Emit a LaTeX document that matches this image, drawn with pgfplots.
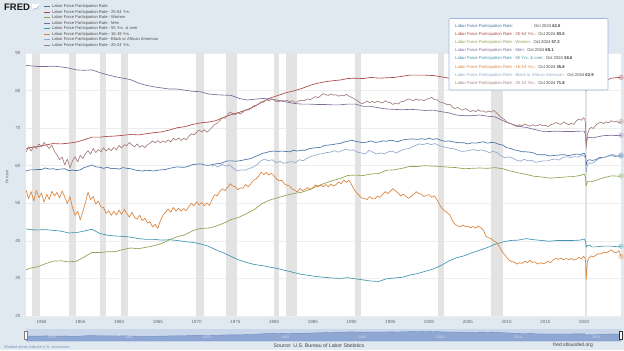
\documentclass[border=0pt]{standalone}
\usepackage{fontspec}
\setmainfont{Liberation Sans}
\usepackage{pgfplots}
\usepackage{pgfplotstable}
\pgfplotsset{compat=1.18}
\definecolor{fredbg}{HTML}{E1E9F0}
\definecolor{cA}{HTML}{4572A7}
\definecolor{cB}{HTML}{AA4643}
\definecolor{cC}{HTML}{89A54E}
\definecolor{cD}{HTML}{80699B}
\definecolor{cE}{HTML}{3D96AE}
\definecolor{cF}{HTML}{DB843D}
\definecolor{cG}{HTML}{92A8CD}
\definecolor{cH}{HTML}{A47D7C}
\definecolor{recc}{HTML}{E3E3E3}
\definecolor{gridc}{HTML}{EDEDED}
\definecolor{tickc}{HTML}{666666}
\definecolor{navbg}{HTML}{CAD7EA}
\definecolor{navfill}{HTML}{8FA7D3}
\definecolor{navline}{HTML}{6E8CC4}
\definecolor{tipb}{HTML}{9DB6DD}
\newcommand\fs[1]{\fontsize{#1}{#1}\selectfont}

\pgfplotstableread[row sep=\\]{x y\\
1948 58.6\\ 1948.5 58.9\\ 1949 58.9\\ 1949.5 59.0\\ 1950 59.0\\ 1950.5 59.4\\ 1951 59.1\\ 1951.5 59.2\\ 1952 59.0\\ 1952.5 59.1\\
1953 59.2\\ 1953.5 58.7\\ 1954 58.8\\ 1954.5 58.7\\ 1955 58.9\\ 1955.5 59.5\\ 1956 59.8\\ 1956.5 60.2\\ 1957 59.7\\ 1957.5 59.6\\
1958 59.3\\ 1958.5 59.6\\ 1959 59.2\\ 1959.5 59.3\\ 1960 59.1\\ 1960.5 59.5\\ 1961 59.3\\ 1961.5 59.2\\ 1962 58.9\\ 1962.5 58.7\\
1963 58.6\\ 1963.5 58.8\\ 1964 58.7\\ 1964.5 58.6\\ 1965 58.8\\ 1965.5 58.9\\ 1966 59.0\\ 1966.5 59.3\\ 1967 59.5\\ 1967.5 59.7\\
1968 59.6\\ 1968.5 59.6\\ 1969 59.9\\ 1969.5 60.3\\ 1970 60.4\\ 1970.5 60.5\\ 1971 60.2\\ 1971.5 60.1\\ 1972 60.3\\ 1972.5 60.5\\
1973 60.6\\ 1973.5 60.9\\ 1974 61.3\\ 1974.5 61.3\\ 1975 61.2\\ 1975.5 61.3\\ 1976 61.5\\ 1976.5 61.7\\ 1977 61.9\\ 1977.5 62.4\\
1978 62.8\\ 1978.5 63.3\\ 1979 63.5\\ 1979.5 63.8\\ 1980 63.9\\ 1980.5 63.8\\ 1981 63.9\\ 1981.5 63.8\\ 1982 63.7\\ 1982.5 64.1\\
1983 63.9\\ 1983.5 64.1\\ 1984 64.1\\ 1984.5 64.5\\ 1985 64.7\\ 1985.5 64.8\\ 1986 64.9\\ 1986.5 65.4\\ 1987 65.5\\ 1987.5 65.6\\
1988 65.8\\ 1988.5 65.9\\ 1989 66.3\\ 1989.5 66.5\\ 1990 66.8\\ 1990.5 66.5\\ 1991 66.3\\ 1991.5 66.1\\ 1992 66.3\\ 1992.5 66.6\\
1993 66.2\\ 1993.5 66.3\\ 1994 66.6\\ 1994.5 66.5\\ 1995 66.8\\ 1995.5 66.6\\ 1996 66.4\\ 1996.5 66.8\\ 1997 67.0\\ 1997.5 67.1\\
1998 67.1\\ 1998.5 67.0\\ 1999 67.2\\ 1999.5 67.0\\ 2000 67.3\\ 2000.5 67.0\\ 2001 67.2\\ 2001.5 66.8\\ 2002 66.5\\ 2002.5 66.6\\
2003 66.4\\ 2003.5 66.2\\ 2004 66.1\\ 2004.5 66.1\\ 2005 65.8\\ 2005.5 66.1\\ 2006 66.0\\ 2006.5 66.2\\ 2007 66.4\\ 2007.5 66.0\\
2008 66.2\\ 2008.5 66.1\\ 2009 65.7\\ 2009.5 65.5\\ 2010 64.8\\ 2010.5 64.6\\ 2011 64.2\\ 2011.5 64.0\\ 2012 63.7\\ 2012.5 63.7\\
2013 63.6\\ 2013.5 63.4\\ 2014 62.9\\ 2014.5 62.9\\ 2015 62.9\\ 2015.5 62.6\\ 2016 62.7\\ 2016.5 62.8\\ 2017 62.9\\ 2017.5 62.9\\
2018 62.7\\ 2018.5 62.9\\ 2019 63.1\\ 2019.5 63.0\\ 2020 63.3\\ 2020.17 62.6\\ 2020.25 60.1\\ 2020.42 61.4\\ 2020.75 61.6\\
2021 61.4\\ 2021.5 61.6\\ 2022 62.2\\ 2022.5 62.2\\ 2023 62.5\\ 2023.5 62.7\\ 2024 62.5\\ 2024.5 62.6\\ 2024.75 62.6\\
}\tTotal

\pgfplotstableread[row sep=\\]{x y\\
1948 64.6\\ 1948.5 64.8\\ 1949.5 65.1\\ 1950.5 65.5\\ 1951.5 65.9\\ 1952.5 65.8\\ 1953.5 66.0\\ 1954.5 66.3\\ 1955.5 66.9\\ 1956.5 67.6\\
1957.5 67.6\\ 1958.5 67.8\\ 1959.5 67.9\\ 1960.5 68.1\\ 1961.5 68.3\\ 1962.5 68.2\\ 1963.5 68.5\\ 1964.5 68.8\\ 1965.5 69.0\\ 1966.5 69.5\\
1967.5 70.1\\ 1968.5 70.4\\ 1969.5 71.0\\ 1970.5 71.4\\ 1971.5 71.6\\ 1972.5 72.0\\ 1973.5 72.9\\ 1974.5 73.6\\ 1975.5 74.2\\ 1976.5 74.9\\
1977.5 75.8\\ 1978.5 77.0\\ 1979.5 78.0\\ 1980.5 78.7\\ 1981.5 79.4\\ 1982.5 79.9\\ 1983.5 80.5\\ 1984.5 81.3\\ 1985.5 81.9\\ 1986.5 82.3\\
1987.5 82.6\\ 1988.5 82.8\\ 1989.5 83.2\\ 1990.5 83.3\\ 1991.5 83.2\\ 1992.5 83.5\\ 1993.5 83.3\\ 1994.5 83.4\\ 1995.5 83.5\\ 1996.5 83.8\\
1997.5 84.1\\ 1998.5 84.1\\ 1999.5 84.1\\ 2000.5 84.0\\ 2001.5 83.7\\ 2002.5 83.3\\ 2003.5 82.9\\ 2004.5 82.7\\ 2005.5 82.7\\ 2006.5 82.9\\
2007.5 83.0\\ 2008.5 83.1\\ 2009.5 82.5\\ 2010.5 81.8\\ 2011.5 81.3\\ 2012.5 81.4\\ 2013.5 80.9\\ 2014.5 80.9\\ 2015.5 80.9\\ 2016.5 81.3\\
2017.5 81.7\\ 2018.5 82.1\\ 2019.5 82.5\\ 2020 83.0\\ 2020.17 82.5\\ 2020.25 79.9\\ 2020.42 81.1\\ 2020.75 81.3\\ 2021 81.1\\ 2021.5 81.7\\
2022.5 82.4\\ 2023.5 83.3\\ 2024.5 83.5\\ 2024.75 83.5\\
}\tPrime

\pgfplotstableread[row sep=\\]{x y\\
1948 32.3\\ 1948.5 32.7\\ 1949.5 33.1\\ 1950.5 33.9\\ 1951.5 34.6\\ 1952.5 34.7\\ 1953.5 34.4\\ 1954.5 34.6\\ 1955.5 35.7\\ 1956.5 36.9\\
1957.5 36.9\\ 1958.5 37.1\\ 1959.5 37.1\\ 1960.5 37.7\\ 1961.5 38.1\\ 1962.5 37.9\\ 1963.5 38.3\\ 1964.5 38.7\\ 1965.5 39.3\\ 1966.5 40.3\\
1967.5 41.1\\ 1968.5 41.6\\ 1969.5 42.7\\ 1970.5 43.3\\ 1971.5 43.4\\ 1972.5 43.9\\ 1973.5 44.7\\ 1974.5 45.7\\ 1975.5 46.3\\ 1976.5 47.3\\
1977.5 48.4\\ 1978.5 50.0\\ 1979.5 50.9\\ 1980.5 51.5\\ 1981.5 52.1\\ 1982.5 52.6\\ 1983.5 52.9\\ 1984.5 53.6\\ 1985.5 54.5\\ 1986.5 55.3\\
1987.5 56.0\\ 1988.5 56.6\\ 1989.5 57.4\\ 1990.5 57.5\\ 1991.5 57.4\\ 1992.5 57.8\\ 1993.5 57.9\\ 1994.5 58.8\\ 1995.5 58.9\\ 1996.5 59.3\\
1997.5 59.8\\ 1998.5 59.8\\ 1999.5 60.0\\ 2000.5 59.9\\ 2001.5 59.8\\ 2002.5 59.6\\ 2003.5 59.5\\ 2004.5 59.2\\ 2005.5 59.3\\ 2006.5 59.4\\
2007.5 59.3\\ 2008.5 59.5\\ 2009.5 59.2\\ 2010.5 58.6\\ 2011.5 58.1\\ 2012.5 57.7\\ 2013.5 57.2\\ 2014.5 57.0\\ 2015.5 56.7\\ 2016.5 56.8\\
2017.5 57.0\\ 2018.5 57.1\\ 2019.5 57.4\\ 2020 57.8\\ 2020.17 57.0\\ 2020.25 54.6\\ 2020.42 55.8\\ 2020.75 55.9\\ 2021 55.8\\ 2021.5 56.1\\
2022.5 56.8\\ 2023.5 57.3\\ 2024.5 57.2\\ 2024.75 57.3\\
}\tWomen

\pgfplotstableread[row sep=\\]{x y\\
1948 86.7\\ 1948.5 86.6\\ 1949.5 86.4\\ 1950.5 86.4\\ 1951.5 86.5\\ 1952.5 86.3\\ 1953.5 86.0\\ 1954.5 85.5\\ 1955.5 85.4\\ 1956.5 85.5\\
1957.5 84.8\\ 1958.5 84.2\\ 1959.5 83.7\\ 1960.5 83.3\\ 1961.5 82.9\\ 1962.5 82.0\\ 1963.5 81.4\\ 1964.5 81.0\\ 1965.5 80.7\\ 1966.5 80.4\\
1967.5 80.4\\ 1968.5 80.1\\ 1969.5 79.8\\ 1970.5 79.7\\ 1971.5 79.1\\ 1972.5 78.9\\ 1973.5 78.8\\ 1974.5 78.7\\ 1975.5 77.9\\ 1976.5 77.5\\
1977.5 77.7\\ 1978.5 77.9\\ 1979.5 77.8\\ 1980.5 77.4\\ 1981.5 77.0\\ 1982.5 76.6\\ 1983.5 76.4\\ 1984.5 76.4\\ 1985.5 76.3\\ 1986.5 76.3\\
1987.5 76.2\\ 1988.5 76.2\\ 1989.5 76.4\\ 1990.5 76.4\\ 1991.5 75.8\\ 1992.5 75.8\\ 1993.5 75.4\\ 1994.5 75.1\\ 1995.5 75.0\\ 1996.5 74.9\\
1997.5 75.0\\ 1998.5 74.9\\ 1999.5 74.7\\ 2000.5 74.8\\ 2001.5 74.4\\ 2002.5 74.1\\ 2003.5 73.5\\ 2004.5 73.3\\ 2005.5 73.3\\ 2006.5 73.5\\
2007.5 73.2\\ 2008.5 73.0\\ 2009.5 72.0\\ 2010.5 71.2\\ 2011.5 70.5\\ 2012.5 70.2\\ 2013.5 69.7\\ 2014.5 69.2\\ 2015.5 69.1\\ 2016.5 69.2\\
2017.5 69.1\\ 2018.5 69.1\\ 2019.5 69.2\\ 2020 69.2\\ 2020.17 68.4\\ 2020.25 65.9\\ 2020.42 67.4\\ 2020.75 67.6\\ 2021 67.4\\ 2021.5 67.6\\
2022.5 68.0\\ 2023.5 68.1\\ 2024.5 68.0\\ 2024.75 68.1\\
}\tMen

\pgfplotstableread[row sep=\\]{x y\\
1948 43.2\\ 1948.5 43.0\\ 1949.5 42.9\\ 1950.5 43.0\\ 1951.5 42.8\\ 1952.5 42.6\\ 1953.5 42.1\\ 1954.5 42.2\\ 1955.5 42.6\\ 1956.5 43.1\\
1957.5 42.0\\ 1958.5 41.5\\ 1959.5 41.3\\ 1960.5 41.2\\ 1961.5 41.0\\ 1962.5 40.6\\ 1963.5 40.4\\ 1964.5 40.4\\ 1965.5 40.2\\ 1966.5 40.3\\
1967.5 40.1\\ 1968.5 39.8\\ 1969.5 39.6\\ 1970.5 39.2\\ 1971.5 38.6\\ 1972.5 37.6\\ 1973.5 36.8\\ 1974.5 35.8\\ 1975.5 34.9\\ 1976.5 34.2\\
1977.5 33.7\\ 1978.5 33.4\\ 1979.5 33.0\\ 1980.5 32.6\\ 1981.5 32.1\\ 1982.5 31.6\\ 1983.5 31.1\\ 1984.5 30.8\\ 1985.5 30.5\\ 1986.5 30.3\\
1987.5 30.1\\ 1988.5 30.0\\ 1989.5 30.2\\ 1990.5 29.9\\ 1991.5 29.6\\ 1992.5 29.3\\ 1993.5 29.2\\ 1994.5 29.9\\ 1995.5 30.1\\ 1996.5 30.3\\
1997.5 30.9\\ 1998.5 31.3\\ 1999.5 31.9\\ 2000.5 32.5\\ 2001.5 33.4\\ 2002.5 34.6\\ 2003.5 35.5\\ 2004.5 36.0\\ 2005.5 36.8\\ 2006.5 37.5\\
2007.5 38.2\\ 2008.5 39.1\\ 2009.5 39.7\\ 2010.5 40.1\\ 2011.5 40.2\\ 2012.5 40.6\\ 2013.5 40.3\\ 2014.5 40.1\\ 2015.5 39.9\\ 2016.5 40.1\\
2017.5 40.1\\ 2018.5 40.1\\ 2019.5 40.2\\ 2020 40.5\\ 2020.17 39.9\\ 2020.25 38.3\\ 2020.42 38.8\\ 2020.75 38.8\\ 2021 38.4\\ 2021.5 38.4\\
2022.5 38.6\\ 2023.5 38.6\\ 2024.5 38.4\\ 2024.75 38.6\\
}\tOld

\pgfplotstableread[row sep=\\]{x y\\
1948 53.6\\ 1948.33 51.2\\ 1948.67 53.1\\ 1949 50.6\\ 1949.33 53.4\\ 1949.67 51.5\\ 1950 52.7\\ 1950.33 50.3\\ 1950.67 52.4\\
1951 51.0\\ 1951.33 53.2\\ 1951.67 52.0\\ 1952 52.9\\ 1952.33 51.4\\ 1952.67 53.3\\ 1953 51.6\\ 1953.33 49.9\\ 1953.67 51.8\\
1954 48.8\\ 1954.33 46.8\\ 1954.67 47.9\\ 1955 45.6\\ 1955.33 47.8\\ 1955.67 50.2\\ 1956 53.0\\ 1956.33 51.0\\ 1956.67 51.8\\
1957 49.8\\ 1957.33 50.6\\ 1957.67 49.0\\ 1958 48.9\\ 1958.33 47.3\\ 1958.67 48.0\\ 1959 46.8\\ 1959.33 47.9\\ 1959.67 46.9\\
1960 48.2\\ 1960.33 47.0\\ 1960.67 48.4\\ 1961 47.3\\ 1961.33 46.3\\ 1961.67 47.6\\ 1962 46.2\\ 1962.33 45.8\\ 1962.67 46.8\\
1963 45.4\\ 1963.33 46.0\\ 1963.67 44.8\\ 1964 45.1\\ 1964.33 43.7\\ 1964.67 44.4\\ 1965 43.3\\ 1965.33 45.4\\ 1965.67 46.8\\
1966 47.6\\ 1966.33 48.5\\ 1966.67 47.6\\ 1967 48.9\\ 1967.33 47.9\\ 1967.67 48.7\\ 1968 47.9\\ 1968.33 48.6\\ 1968.67 48.0\\
1969 49.1\\ 1969.33 50.0\\ 1969.67 49.3\\ 1970 50.4\\ 1970.33 49.6\\ 1970.67 50.2\\ 1971 49.3\\ 1971.33 50.1\\ 1971.67 49.4\\
1972 51.0\\ 1972.33 52.3\\ 1972.67 52.0\\ 1973 53.2\\ 1973.33 53.9\\ 1973.67 53.4\\ 1974 54.2\\ 1974.33 55.2\\ 1974.67 54.6\\
1975 54.4\\ 1975.33 53.6\\ 1975.67 54.1\\ 1976 54.0\\ 1976.33 55.0\\ 1976.67 54.4\\ 1977 55.2\\ 1977.33 56.1\\ 1977.67 56.5\\
1978 57.2\\ 1978.33 58.3\\ 1978.67 57.6\\ 1979 58.2\\ 1979.33 57.5\\ 1979.67 58.0\\ 1980 57.3\\ 1980.33 56.4\\ 1980.67 56.0\\
1981 56.1\\ 1981.33 55.2\\ 1981.67 54.8\\ 1982 54.6\\ 1982.33 53.8\\ 1982.67 53.5\\ 1983 53.0\\ 1983.33 54.0\\ 1983.67 53.4\\
1984 53.7\\ 1984.33 54.2\\ 1984.67 53.6\\ 1985 54.1\\ 1985.33 54.9\\ 1985.67 54.3\\ 1986 54.9\\ 1986.33 54.4\\ 1986.67 55.0\\
1987 54.4\\ 1987.33 55.1\\ 1987.67 54.6\\ 1988 55.0\\ 1988.33 55.7\\ 1988.67 55.2\\ 1989 56.2\\ 1989.33 55.6\\ 1989.67 56.1\\
1990 55.0\\ 1990.33 53.6\\ 1990.67 52.8\\ 1991 52.0\\ 1991.33 51.4\\ 1991.67 51.3\\ 1992 51.0\\ 1992.33 51.8\\ 1992.67 51.2\\
1993 51.2\\ 1993.33 51.9\\ 1993.67 51.6\\ 1994 52.4\\ 1994.33 53.1\\ 1994.67 52.6\\ 1995 53.2\\ 1995.33 53.9\\ 1995.67 53.3\\
1996 52.7\\ 1996.33 52.0\\ 1996.67 52.4\\ 1997 51.9\\ 1997.33 51.3\\ 1997.67 51.8\\ 1998 52.3\\ 1998.33 53.1\\ 1998.67 52.6\\
1999 52.4\\ 1999.33 51.8\\ 1999.67 52.1\\ 2000 52.3\\ 2000.33 51.6\\ 2000.67 52.0\\ 2001 51.0\\ 2001.33 49.7\\ 2001.67 48.6\\
2002 48.0\\ 2002.33 47.5\\ 2002.67 46.9\\ 2003 45.4\\ 2003.33 44.4\\ 2003.67 44.0\\ 2004 43.7\\ 2004.33 44.2\\ 2004.67 43.8\\
2005 43.9\\ 2005.33 43.5\\ 2005.67 43.8\\ 2006 43.4\\ 2006.33 43.9\\ 2006.67 43.5\\ 2007 42.8\\ 2007.33 41.2\\ 2007.67 40.8\\
2008 40.6\\ 2008.33 40.0\\ 2008.67 39.6\\ 2009 38.7\\ 2009.33 37.4\\ 2009.67 36.5\\ 2010 35.6\\ 2010.33 34.8\\ 2010.67 34.5\\
2011 34.3\\ 2011.33 33.8\\ 2011.67 34.2\\ 2012 34.0\\ 2012.33 34.6\\ 2012.67 34.2\\ 2013 34.8\\ 2013.33 34.3\\ 2013.67 34.4\\
2014 33.8\\ 2014.33 34.2\\ 2014.67 33.9\\ 2015 34.1\\ 2015.33 34.6\\ 2015.67 34.2\\ 2016 34.9\\ 2016.33 35.4\\ 2016.67 35.1\\
2017 35.4\\ 2017.33 35.0\\ 2017.67 35.3\\ 2018 35.0\\ 2018.33 35.3\\ 2018.67 34.9\\ 2019 35.1\\ 2019.33 35.6\\ 2019.67 35.2\\
2019.92 35.9\\ 2020.08 35.5\\ 2020.17 34.8\\ 2020.25 29.6\\ 2020.42 34.5\\ 2020.67 35.6\\ 2020.92 36.0\\
2021.17 35.7\\ 2021.5 36.2\\ 2021.83 36.6\\ 2022.17 36.5\\ 2022.5 37.0\\ 2022.83 36.8\\ 2023.17 37.2\\ 2023.5 37.6\\ 2023.83 37.0\\
2024.17 36.8\\ 2024.5 37.4\\ 2024.75 35.8\\
}\tTeen

\pgfplotstableread[row sep=\\]{x y\\
1972 59.8\\ 1972.25 60.3\\ 1972.75 59.6\\ 1973.25 60.4\\ 1973.75 59.9\\ 1974.25 60.2\\ 1974.75 59.3\\ 1975.25 58.6\\ 1975.75 58.9\\
1976.25 58.8\\ 1976.75 59.2\\ 1977.25 59.6\\ 1977.75 60.2\\ 1978.25 61.2\\ 1978.75 61.8\\ 1979.25 61.3\\ 1979.75 61.6\\ 1980.25 60.8\\
1980.75 61.2\\ 1981.25 60.6\\ 1981.75 60.9\\ 1982.25 61.1\\ 1982.75 60.8\\ 1983.25 61.6\\ 1983.75 61.3\\ 1984.25 62.0\\ 1984.75 62.5\\
1985.25 62.7\\ 1985.75 63.1\\ 1986.25 63.2\\ 1986.75 63.5\\ 1987.25 63.6\\ 1987.75 64.0\\ 1988.25 63.6\\ 1988.75 64.0\\ 1989.25 64.4\\
1989.75 64.1\\ 1990.25 64.2\\ 1990.75 63.6\\ 1991.25 63.4\\ 1991.75 63.1\\ 1992.25 64.1\\ 1992.75 63.6\\ 1993.25 63.1\\ 1993.75 63.4\\
1994.25 63.2\\ 1994.75 63.7\\ 1995.25 63.9\\ 1995.75 63.4\\ 1996.25 63.9\\ 1996.75 64.4\\ 1997.25 64.5\\ 1997.75 64.9\\ 1998.25 65.4\\
1998.75 65.8\\ 1999.25 65.6\\ 1999.75 66.0\\ 2000.25 65.6\\ 2000.75 65.9\\ 2001.25 65.4\\ 2001.75 65.1\\ 2002.25 64.8\\ 2002.75 64.6\\
2003.25 64.5\\ 2003.75 64.1\\ 2004.25 63.8\\ 2004.75 63.9\\ 2005.25 64.1\\ 2005.75 64.3\\ 2006.25 64.0\\ 2006.75 64.2\\ 2007.25 63.9\\
2007.75 63.5\\ 2008.25 63.8\\ 2008.75 63.5\\ 2009.25 62.7\\ 2009.75 62.1\\ 2010.25 62.4\\ 2010.75 62.0\\ 2011.25 61.5\\ 2011.75 61.2\\
2012.25 61.7\\ 2012.75 61.3\\ 2013.25 61.4\\ 2013.75 60.9\\ 2014.25 61.1\\ 2014.75 61.3\\ 2015.25 61.3\\ 2015.75 61.6\\ 2016.25 61.8\\
2016.75 61.5\\ 2017.25 62.2\\ 2017.75 62.4\\ 2018.25 62.2\\ 2018.75 62.4\\ 2019.25 62.3\\ 2019.75 62.8\\ 2020 62.6\\ 2020.17 61.9\\
2020.25 58.2\\ 2020.42 60.3\\ 2020.75 60.8\\ 2021 60.6\\ 2021.5 61.3\\ 2021.75 61.7\\ 2022.25 62.1\\ 2022.75 62.3\\ 2023.25 62.8\\
2023.75 63.0\\ 2024.25 62.5\\ 2024.75 62.9\\
}\tBlack

\pgfplotstableread[row sep=\\]{x y\\
1948 63.6\\ 1948.33 65.0\\ 1948.67 63.9\\ 1949 65.2\\ 1949.33 64.6\\ 1949.67 65.8\\ 1950 65.0\\ 1950.33 66.2\\ 1950.67 65.4\\
1951 64.6\\ 1951.33 65.5\\ 1951.67 63.8\\ 1952 62.9\\ 1952.33 61.6\\ 1952.67 62.3\\ 1953 60.2\\ 1953.33 61.8\\ 1953.67 59.4\\
1954 61.3\\ 1954.33 62.4\\ 1954.67 61.0\\ 1955 62.8\\ 1955.33 61.9\\ 1955.67 63.2\\ 1956 64.0\\ 1956.33 63.1\\ 1956.67 64.6\\
1957 63.5\\ 1957.33 64.3\\ 1957.67 63.7\\ 1958 64.8\\ 1958.33 63.9\\ 1958.67 64.6\\ 1959 64.0\\ 1959.33 64.9\\ 1959.67 64.2\\
1960 65.4\\ 1960.33 64.7\\ 1960.67 65.6\\ 1961 65.3\\ 1961.33 66.2\\ 1961.67 65.5\\ 1962 65.0\\ 1962.33 65.8\\ 1962.67 64.9\\
1963 65.4\\ 1963.33 64.8\\ 1963.67 65.6\\ 1964 66.0\\ 1964.33 66.6\\ 1964.67 66.1\\ 1965 66.7\\ 1965.33 66.1\\ 1965.67 66.6\\
1966 66.2\\ 1966.33 66.9\\ 1966.67 66.3\\ 1967 67.3\\ 1967.33 66.8\\ 1967.67 67.4\\ 1968 66.7\\ 1968.33 67.3\\ 1968.67 66.9\\
1969 67.8\\ 1969.33 68.5\\ 1969.67 68.2\\ 1970 68.9\\ 1970.33 69.5\\ 1970.67 69.0\\ 1971 69.6\\ 1971.33 68.9\\ 1971.67 69.5\\
1972 70.2\\ 1972.33 71.0\\ 1972.67 71.3\\ 1973 72.0\\ 1973.33 72.8\\ 1973.67 72.6\\ 1974 73.5\\ 1974.33 74.3\\ 1974.67 73.9\\
1975 73.6\\ 1975.33 74.1\\ 1975.67 73.8\\ 1976 74.3\\ 1976.33 74.9\\ 1976.67 74.8\\ 1977 75.2\\ 1977.33 75.9\\ 1977.67 76.1\\
1978 76.4\\ 1978.33 77.0\\ 1978.67 76.9\\ 1979 77.6\\ 1979.33 77.3\\ 1979.67 77.7\\ 1980 77.5\\ 1980.33 77.0\\ 1980.67 77.1\\
1981 77.4\\ 1981.33 77.2\\ 1981.67 77.4\\ 1982 77.0\\ 1982.33 77.3\\ 1982.67 76.9\\ 1983 77.0\\ 1983.33 77.4\\ 1983.67 77.3\\
1984 77.4\\ 1984.33 77.8\\ 1984.67 77.6\\ 1985 78.0\\ 1985.33 78.4\\ 1985.67 78.1\\ 1986 78.6\\ 1986.33 79.2\\ 1986.67 78.9\\
1987 78.7\\ 1987.33 79.1\\ 1987.67 78.8\\ 1988 78.9\\ 1988.33 78.5\\ 1988.67 78.8\\ 1989 78.6\\ 1989.33 79.0\\ 1989.67 78.5\\
1990 78.2\\ 1990.33 77.8\\ 1990.67 77.4\\ 1991 76.9\\ 1991.33 76.5\\ 1991.67 76.8\\ 1992 77.2\\ 1992.33 76.8\\ 1992.67 77.1\\
1993 76.8\\ 1993.33 77.2\\ 1993.67 76.9\\ 1994 76.7\\ 1994.33 77.3\\ 1994.67 76.9\\ 1995 76.8\\ 1995.33 76.3\\ 1995.67 76.7\\
1996 76.4\\ 1996.33 77.0\\ 1996.67 77.1\\ 1997 77.4\\ 1997.33 77.8\\ 1997.67 77.5\\ 1998 77.3\\ 1998.33 77.8\\ 1998.67 77.4\\
1999 77.6\\ 1999.33 77.3\\ 1999.67 77.7\\ 2000 77.9\\ 2000.33 78.2\\ 2000.67 77.6\\ 2001 77.6\\ 2001.33 77.0\\ 2001.67 76.8\\
2002 76.6\\ 2002.33 76.2\\ 2002.67 76.4\\ 2003 75.6\\ 2003.33 75.2\\ 2003.67 75.5\\ 2004 75.1\\ 2004.33 74.8\\ 2004.67 75.2\\
2005 74.8\\ 2005.33 74.4\\ 2005.67 74.7\\ 2006 74.4\\ 2006.33 74.9\\ 2006.67 74.5\\ 2007 74.6\\ 2007.33 74.2\\ 2007.67 74.5\\
2008 74.3\\ 2008.33 74.7\\ 2008.67 74.1\\ 2009 73.4\\ 2009.33 72.8\\ 2009.67 72.4\\ 2010 71.6\\ 2010.33 71.3\\ 2010.67 71.1\\
2011 70.7\\ 2011.33 70.4\\ 2011.67 70.9\\ 2012 70.6\\ 2012.33 71.1\\ 2012.67 70.8\\ 2013 70.5\\ 2013.33 70.9\\ 2013.67 70.6\\
2014 70.7\\ 2014.33 71.0\\ 2014.67 70.6\\ 2015 70.8\\ 2015.33 70.4\\ 2015.67 70.9\\ 2016 71.1\\ 2016.33 71.5\\ 2016.67 71.2\\
2017 71.0\\ 2017.33 71.6\\ 2017.67 71.3\\ 2018 70.9\\ 2018.33 71.3\\ 2018.67 71.0\\ 2019 72.0\\ 2019.33 72.4\\ 2019.67 72.1\\
2019.92 72.8\\ 2020.08 72.4\\ 2020.17 71.0\\ 2020.25 64.6\\ 2020.42 68.4\\ 2020.67 69.8\\ 2020.92 70.2\\
2021.17 69.9\\ 2021.5 70.8\\ 2021.83 71.3\\ 2022.17 71.6\\ 2022.5 71.2\\ 2022.83 71.7\\ 2023.17 71.4\\ 2023.5 72.0\\ 2023.83 71.6\\
2024.17 71.9\\ 2024.5 71.3\\ 2024.75 71.8\\
}\tYoung

\begin{document}
\begin{tikzpicture}[x=1bp,y=1bp]
\fill[fredbg] (0,0) rectangle (624,350);
\begin{axis}[
  at={(26bp,34bp)}, anchor=south west, scale only axis,
  width=595bp, height=263bp,
  xmin=1948, xmax=2024.75, ymin=20, ymax=90,
  axis background/.style={fill=white},
  axis line style={draw=none},
  major tick length=0pt,
  ytick={20,30,...,90}, xtick={1950,1955,...,2020},
  ymajorgrids, major grid style={draw=gridc, line width=0.6bp},
  /pgf/number format/assume math mode=true,
  /pgf/number format/1000 sep={},
  ticklabel style={font=\fs{4.5}, text=tickc},
  yticklabel style={xshift=-2bp},
  xticklabel style={yshift=-0.5bp},
  every axis plot/.append style={line width=0.65bp, line join=round},
]
\fill[recc] (1948.83,20) rectangle (1949.83,90);
\fill[recc] (1953.5,20) rectangle (1954.42,90);
\fill[recc] (1957.58,20) rectangle (1958.33,90);
\fill[recc] (1960.25,20) rectangle (1961.17,90);
\fill[recc] (1969.92,20) rectangle (1970.92,90);
\fill[recc] (1973.83,20) rectangle (1975.25,90);
\fill[recc] (1980.0,20) rectangle (1980.58,90);
\fill[recc] (1981.5,20) rectangle (1982.92,90);
\fill[recc] (1990.5,20) rectangle (1991.25,90);
\fill[recc] (2001.17,20) rectangle (2001.92,90);
\fill[recc] (2007.92,20) rectangle (2009.5,90);
\fill[recc] (2020.08,20) rectangle (2020.33,90);
\addplot[cA] table {\tTotal};
\addplot[cB] table {\tPrime};
\addplot[cC] table {\tWomen};
\addplot[cD] table {\tMen};
\addplot[cE] table {\tOld};
\addplot[cF] table {\tTeen};
\addplot[cG] table {\tBlack};
\addplot[cH] table {\tYoung};
\addplot[only marks, mark=*, mark size=2.4bp, cA, opacity=0.25] coordinates {(2024.75,62.6)};
\addplot[only marks, mark=*, mark size=2.4bp, cB, opacity=0.25] coordinates {(2024.75,83.5)};
\addplot[only marks, mark=*, mark size=2.4bp, cC, opacity=0.25] coordinates {(2024.75,57.3)};
\addplot[only marks, mark=*, mark size=2.4bp, cD, opacity=0.25] coordinates {(2024.75,68.1)};
\addplot[only marks, mark=*, mark size=2.4bp, cE, opacity=0.25] coordinates {(2024.75,38.6)};
\addplot[only marks, mark=*, mark size=2.4bp, cF, opacity=0.25] coordinates {(2024.75,35.8)};
\addplot[only marks, mark=*, mark size=2.4bp, cG, opacity=0.25] coordinates {(2024.75,62.9)};
\addplot[only marks, mark=*, mark size=2.4bp, cH, opacity=0.25] coordinates {(2024.75,71.8)};
\end{axis}

% navigator
\fill[navbg] (26,9) rectangle (621,21);
\begin{axis}[
  at={(26bp,9bp)}, anchor=south west, scale only axis,
  width=595bp, height=12bp,
  xmin=1948, xmax=2024.75, ymin=50, ymax=72, hide axis,
]
\addplot[draw=navline, fill=navfill, line width=0.4bp] table {\tTotal} \closedcycle;
\end{axis}
\foreach \xx/\lab in {48/1950,125/1960,203/1970,281/1980,358/1990,436/2000,514/2010,592/2020}
  \node[anchor=west, font=\fs{3.5}, text=white, opacity=0.6, inner sep=0] at (\xx,13) {\lab};
\draw[fill=white, draw=gray, line width=0.3bp] (24.5,11) rectangle (27.5,19);
\draw[fill=white, draw=black!80, line width=0.3bp] (619.5,11) rectangle (622.5,19);

% y label
\node[rotate=90, font=\fs{4}, text=tickc] at (7,173) {Percent};

% FRED logo and legend
\node[anchor=base west, font=\bfseries\fs{9.5}, text=black!90, inner sep=0] at (4,339.3) {FRED};
\fill[white] (32,339.5) rectangle (40,345.5);
\draw[cA!70, line width=0.5bp] (32.5,340) -- (34.5,341.5) -- (36,341) -- (39.5,344.5);
\fill[cA!25] (32.5,340) -- (34.5,341.5) -- (36,341) -- (39.5,344.5) -- (39.5,340) -- cycle;
\foreach \yy/\col/\txt in {
  343.3/cA/{Labor Force Participation Rate},
  337.8/cB/{Labor Force Participation Rate - 25-54 Yrs.},
  332.3/cC/{Labor Force Participation Rate - Women},
  326.8/cD/{Labor Force Participation Rate - Men},
  321.3/cE/{Labor Force Participation Rate - 55 Yrs. \& over},
  315.8/cF/{Labor Force Participation Rate - 16-19 Yrs.},
  310.3/cG/{Labor Force Participation Rate - Black or African American},
  304.8/cH/{Labor Force Participation Rate - 20-24 Yrs.}}
{
  \draw[\col, line width=0.9bp] (44,\yy) -- (50,\yy);
  \node[anchor=west, font=\fs{4.1}, text=black!70, inner sep=0] at (52,\yy) {\txt};
}

% tooltip
\draw[draw=tipb, fill=white, line width=0.6bp, rounded corners=1bp] (449,331.5) rectangle (608,260);
\node[anchor=west, font=\fs{4.2}, text=cA, inner sep=0] at (455,324) {Labor Force Participation Rate:};
\node[anchor=west, font=\fs{4.2}, text=black!75, inner sep=0] at (534,324) {Oct 2024 \textbf{62.6}};
\foreach \yy/\col/\txt/\val in {
  315.8/cB/{Labor Force Participation Rate - 25-54 Yrs.:}/83.5,
  307.6/cC/{Labor Force Participation Rate - Women:}/57.3,
  299.4/cD/{Labor Force Participation Rate - Men:}/68.1,
  291.2/cE/{Labor Force Participation Rate - 55 Yrs. \& over:}/38.6,
  283.0/cF/{Labor Force Participation Rate - 16-19 Yrs.:}/35.8,
  274.8/cG/{Labor Force Participation Rate - Black or African American:}/62.9,
  266.6/cH/{Labor Force Participation Rate - 20-24 Yrs.:}/71.8}
{
  \node[anchor=west, font=\fs{4.2}, inner sep=0] at (455,\yy) {\textcolor{\col}{\txt}\ \ \textcolor{black!75}{Oct 2024 \textbf{\val}}};
}

% footer
\node[anchor=west, font=\itshape\fs{3.8}, text=cA!80, inner sep=0] at (4,3) {Shaded areas indicate U.S. recessions.};
\node[font=\fs{5.2}, text=black!75, inner sep=0] at (319,4.5) {Source: U.S. Bureau of Labor Statistics};
\node[font=\fs{5}, text=black!75, inner sep=0] at (573,4.5) {fred.stlouisfed.org};
\useasboundingbox (0,0) rectangle (624,350);
\end{tikzpicture}
\end{document}
